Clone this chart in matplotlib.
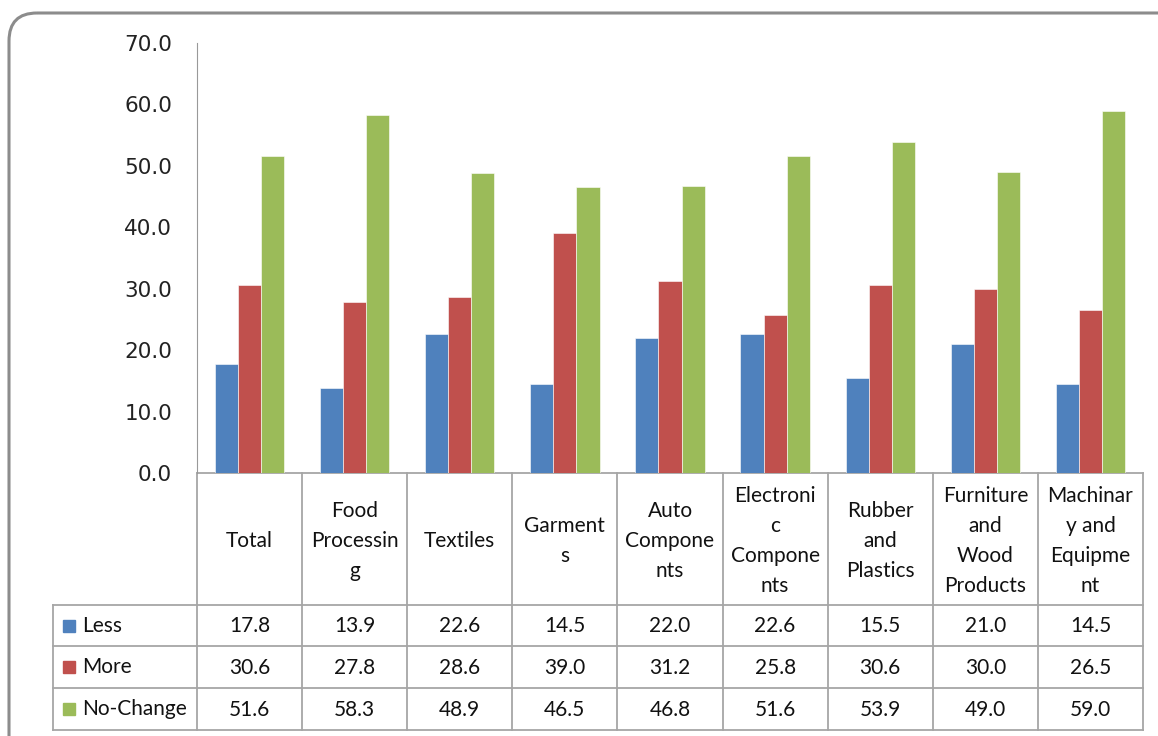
import numpy as np
import matplotlib.pyplot as plt
from matplotlib.patches import FancyBboxPatch, Rectangle

categories = ["Total", "Food\nProcessin\ng", "Textiles", "Garment\ns", "Auto\nCompone\nnts",
              "Electroni\nc\nCompone\nnts", "Rubber\nand\nPlastics", "Furniture\nand\nWood\nProducts",
              "Machinar\ny and\nEquipme\nnt"]
series = ["Less", "More", "No-Change"]
less = [17.8, 13.9, 22.6, 14.5, 22.0, 22.6, 15.5, 21.0, 14.5]
more = [30.6, 27.8, 28.6, 39.0, 31.2, 25.8, 30.6, 30.0, 26.5]
no_change = [51.6, 58.3, 48.9, 46.5, 46.8, 51.6, 53.9, 49.0, 59.0]
colors = ["#4F81BD", "#C0504D", "#9BBB59"]
yticks = [0, 10, 20, 30, 40, 50, 60, 70]

W, H = 1158, 736
fig = plt.figure(figsize=(W / 100, H / 100), dpi=100)

# background layer in pixel coordinates (y down) for frame and data table
bg = fig.add_axes([0, 0, 1, 1])
bg.set_xlim(0, W)
bg.set_ylim(H, 0)
bg.axis("off")

bg.add_patch(FancyBboxPatch((9, 13), 1180, 760, boxstyle="round,pad=0,rounding_size=28",
                            fill=False, ec="#8c8c8c", lw=2.2))

# plot area
x0, x1, ytop, ybot = 197, 1143, 43, 473
ax = fig.add_axes([x0 / W, 1 - ybot / H, (x1 - x0) / W, (ybot - ytop) / H])
x = np.arange(len(categories))
w = 0.22
for i, vals in enumerate([less, more, no_change]):
    ax.bar(x + (i - 1) * w, vals, w, color=colors[i], edgecolor="white", linewidth=0.4)
ax.set_xlim(-0.5, len(categories) - 0.5)
ax.set_ylim(0, 70)
ax.set_yticks(yticks)
ax.set_yticklabels([f"{t:.1f}" for t in yticks], fontsize=15.5, color="#222222")
ax.tick_params(axis="y", length=0, pad=18)
ax.set_xticks([])
for s in ["top", "right", "bottom"]:
    ax.spines[s].set_visible(False)
ax.spines["left"].set_color("#999999")
ax.patch.set_alpha(0)

# data table
grid = "#a6a6a6"
font = "Lato"
col_w = (x1 - x0) / len(categories)
row_y = [473, 605, 646, 688, 730]
bg.plot([x0, x1], [row_y[0], row_y[0]], color=grid, lw=1.3)
for yy in row_y[1:]:
    bg.plot([53, x1], [yy, yy], color=grid, lw=1.3)
bg.plot([53, 53], [row_y[1], row_y[-1]], color=grid, lw=1.3)
bg.plot([x0, x0], [row_y[0], row_y[-1]], color=grid, lw=1.3)
for j in range(1, len(categories) + 1):
    xx = x0 + j * col_w
    bg.plot([xx, xx], [row_y[0], row_y[-1]], color=grid, lw=1.3)

for j, cat in enumerate(categories):
    cx = x0 + (j + 0.5) * col_w
    bg.text(cx, (row_y[0] + row_y[1]) / 2 + 2, cat, ha="center", va="center",
            fontsize=15, family=font, linespacing=1.63, color="#111111")

for r, (name, vals) in enumerate(zip(series, [less, more, no_change])):
    cy = (row_y[r + 1] + row_y[r + 2]) / 2
    bg.add_patch(Rectangle((63, cy - 6), 12, 12, color=colors[r]))
    bg.text(82, cy, name, ha="left", va="center", fontsize=15, family=font, color="#111111")
    for j, v in enumerate(vals):
        cx = x0 + (j + 0.5) * col_w
        bg.text(cx, cy + 1, f"{v:.1f}", ha="center", va="center", fontsize=15, family=font,
                color="#111111")

fig.savefig("out.png", dpi=100)
